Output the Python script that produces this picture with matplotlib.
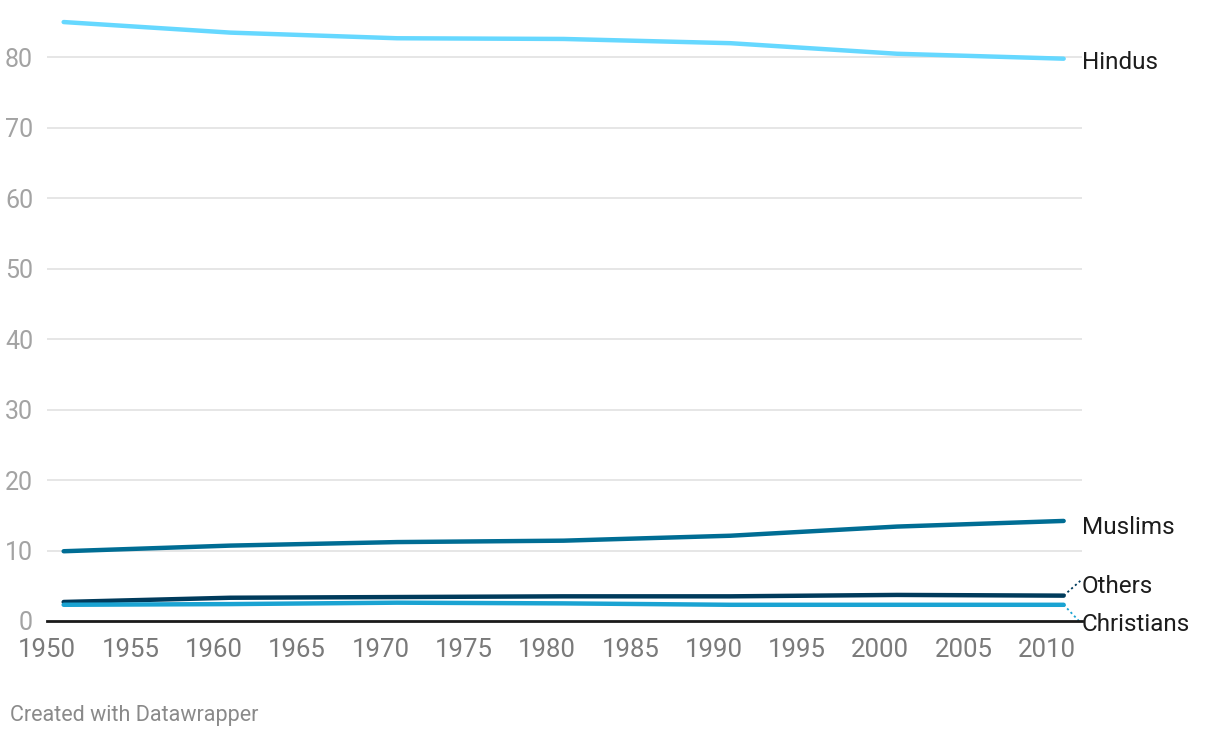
import matplotlib
matplotlib.use("Agg")
import matplotlib.pyplot as plt

plt.rcParams['font.family'] = ['Roboto', 'DejaVu Sans']

years = [1951, 1961, 1971, 1981, 1991, 2001, 2011]
hindus = [85.0, 83.5, 82.7, 82.6, 82.0, 80.5, 79.8]
muslims = [9.9, 10.7, 11.2, 11.4, 12.1, 13.4, 14.2]
others = [2.7, 3.3, 3.4, 3.5, 3.5, 3.7, 3.6]
christians = [2.3, 2.4, 2.6, 2.5, 2.3, 2.3, 2.3]

series = [
    ("Hindus", hindus, "#66d8ff"),
    ("Muslims", muslims, "#006d94"),
    ("Others", others, "#003b5c"),
    ("Christians", christians, "#1aa3d2"),
]
# where the label sits (data units) for each series
label_y = {"Hindus": 79.2, "Muslims": 13.3, "Others": 4.9, "Christians": -0.5}

fig = plt.figure(figsize=(12.2, 7.38), dpi=100)
ax = fig.add_axes([47 / 1220, 117 / 738, 1035 / 1220, 606 / 738])

for name, vals, col in series:
    ax.plot(years, vals, color=col, lw=3.2, solid_capstyle="round", zorder=3)
    ax.text(2012.1, label_y[name], name, fontsize=17.5, color="#1d1d1d",
            va="center", ha="left", clip_on=False)
    if name in ("Others", "Christians"):
        ax.plot([years[-1], 2012.0], [vals[-1], label_y[name] + (0.8 if name == "Others" else 0.3)],
                color=col, lw=1.3, ls=(0, (1.2, 1.6)), clip_on=False, zorder=2)

ax.set_xlim(1950, 2012.1)
ax.set_ylim(0, 86)
ax.set_yticks(range(0, 90, 10))
ax.set_xticks(range(1950, 2015, 5))
for y in range(10, 90, 10):
    ax.axhline(y, color="#e2e2e2", lw=1.2, zorder=1)
ax.axhline(0, color="#1a1a1a", lw=2, zorder=4, clip_on=False)

for s in ax.spines.values():
    s.set_visible(False)
ax.tick_params(length=0)
ax.tick_params(axis="y", labelsize=18, labelcolor="#a3a3a3", pad=10)
ax.tick_params(axis="x", labelsize=18.5, labelcolor="#7a7a7a", pad=12)

fig.text(10 / 1220, 1 - 715 / 738, "Created with Datawrapper", fontsize=15.5,
         color="#8a8a8a", va="center", ha="left")

fig.savefig("out.png", dpi=100, facecolor="white")
